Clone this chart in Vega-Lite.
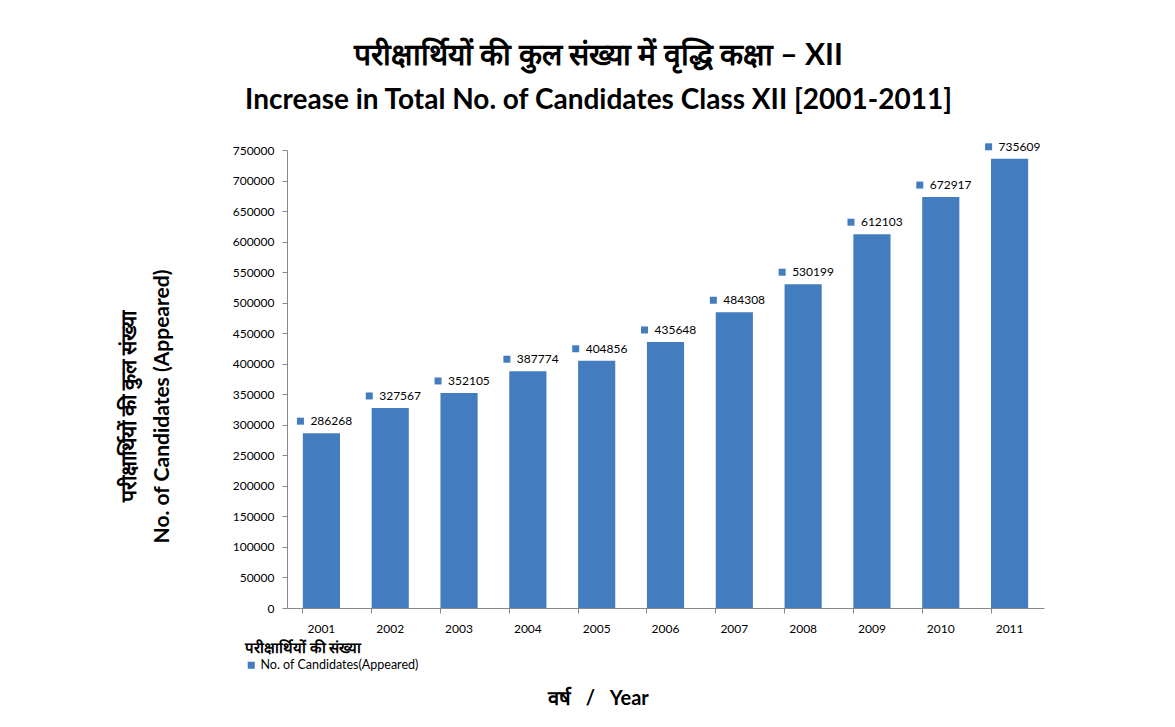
{
  "$schema": "https://vega.github.io/schema/vega-lite/v6.json",
  "width": 757,
  "height": 458,
  "autosize": {"type": "none"},
  "padding": {"left": 287, "top": 150, "right": 131, "bottom": 119},
  "background": "white",
  "title": {
    "text": "परीक्षार्थियों की कुल संख्या में वृद्धि कक्षा – XII",
    "subtitle": "Increase in Total No. of Candidates Class XII [2001-2011]",
    "fontSize": 30,
    "fontWeight": "bold",
    "font": "Lato",
    "color": "#000000",
    "subtitleFont": "Lato",
    "subtitleFontSize": 28,
    "subtitleFontWeight": "bold",
    "subtitleColor": "#000000",
    "subtitlePadding": 16,
    "anchor": "middle",
    "dx": -67,
    "offset": 26
  },
  "data": {
    "values": [
      {"year": "2001", "candidates": 286268, "series": "No. of Candidates(Appeared)"},
      {"year": "2002", "candidates": 327567, "series": "No. of Candidates(Appeared)"},
      {"year": "2003", "candidates": 352105, "series": "No. of Candidates(Appeared)"},
      {"year": "2004", "candidates": 387774, "series": "No. of Candidates(Appeared)"},
      {"year": "2005", "candidates": 404856, "series": "No. of Candidates(Appeared)"},
      {"year": "2006", "candidates": 435648, "series": "No. of Candidates(Appeared)"},
      {"year": "2007", "candidates": 484308, "series": "No. of Candidates(Appeared)"},
      {"year": "2008", "candidates": 530199, "series": "No. of Candidates(Appeared)"},
      {"year": "2009", "candidates": 612103, "series": "No. of Candidates(Appeared)"},
      {"year": "2010", "candidates": 672917, "series": "No. of Candidates(Appeared)"},
      {"year": "2011", "candidates": 735609, "series": "No. of Candidates(Appeared)"}
    ]
  },
  "encoding": {
    "x": {
      "field": "year",
      "type": "ordinal",
      "scale": {"paddingInner": 0.46, "paddingOuter": 0.23},
      "axis": {
        "title": "वर्ष\u00a0\u00a0\u00a0/\u00a0\u00a0\u00a0Year",
        "titleFontSize": 20,
        "titleFont": "Lato",
        "titleFontWeight": "bold",
        "titleColor": "#000000",
        "titleX": 311,
        "titleY": 90,
        "titleAlign": "center",
        "titleBaseline": "middle",
        "labelAngle": 0,
        "labelFont": "Lato",
        "labelFontSize": 12,
        "labelColor": "#000000",
        "labelPadding": 10,
        "bandPosition": 0,
        "labelOffset": 0,
        "tickSize": 5,
        "tickColor": "#888888",
        "domainColor": "#888888"
      }
    },
    "y": {
      "field": "candidates",
      "type": "quantitative",
      "scale": {"domain": [0, 750000], "nice": false},
      "axis": {
        "title": ["परीक्षार्थियों की कुल संख्या", "No. of Candidates (Appeared)"],
        "titleFontSize": 21,
        "titleFont": "Lato",
        "titleFontWeight": "bold",
        "titleColor": "#000000",
        "titleLineHeight": 33,
        "titlePadding": 60,
        "titleY": 256,
        "values": [0, 50000, 100000, 150000, 200000, 250000, 300000, 350000, 400000, 450000, 500000, 550000, 600000, 650000, 700000, 750000],
        "format": "d",
        "labelFont": "Lato",
        "labelFontSize": 12,
        "labelColor": "#000000",
        "labelPadding": 8,
        "tickSize": 5,
        "tickColor": "#888888",
        "domainColor": "#888888",
        "grid": false
      }
    }
  },
  "layer": [
    {
      "mark": {"type": "bar"},
      "encoding": {
        "color": {
          "field": "series",
          "type": "nominal",
          "scale": {"range": ["#437DBF"]},
          "legend": {
            "title": "परीक्षार्थियों की संख्या",
            "orient": "none",
            "legendX": -42,
            "legendY": 491,
            "direction": "vertical",
            "titleFontSize": 15,
            "titleFontWeight": "bold",
            "titleColor": "#000000",
            "titleFont": "Lato",
            "labelFont": "Lato",
            "labelFontSize": 12.5,
            "labelColor": "#000000",
            "symbolType": "square",
            "symbolSize": 50,
            "symbolStrokeWidth": 0,
            "titlePadding": 3,
            "labelOffset": 3
          }
        }
      }
    },
    {
      "mark": {"type": "point", "shape": "square", "filled": true, "size": 49, "color": "#437DBF", "opacity": 1},
      "encoding": {
        "xOffset": {"value": -2.4},
        "yOffset": {"value": -12}
      }
    },
    {
      "mark": {"type": "text", "align": "left", "baseline": "middle", "dx": -11, "dy": -12, "font": "Lato", "fontSize": 12, "color": "#000000"},
      "encoding": {
        "text": {"field": "candidates", "type": "quantitative", "format": "d"}
      }
    }
  ],
  "config": {
    "view": {"stroke": null}
  }
}
